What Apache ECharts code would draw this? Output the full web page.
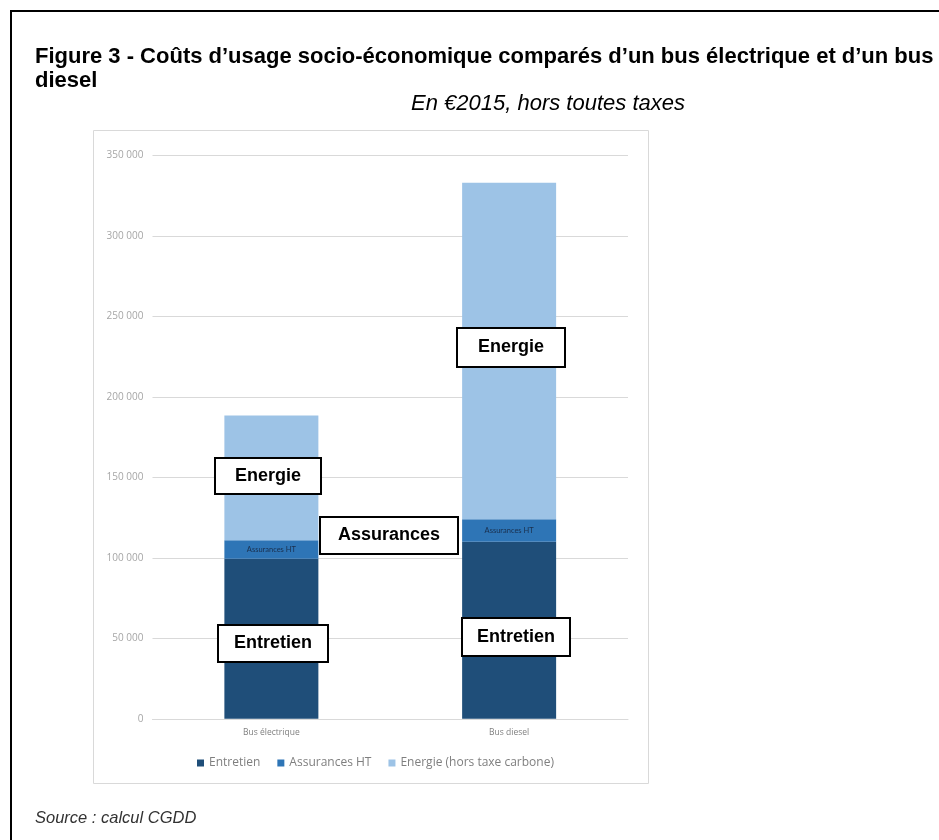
<!DOCTYPE html>
<html>
<head>
<meta charset="utf-8">
<script src="https://cdn.jsdelivr.net/npm/echarts@6/dist/echarts.min.js"></script>
<style>
  html, body { margin: 0; padding: 0; background: #fff; }
  #chart { width: 939px; height: 840px; }
</style>
</head>
<body>
<div id="chart"></div>
<script>
// données (en €2015)
var categories = ['Bus électrique', 'Bus diesel'];
var entretien = [99500, 110000];
var assurances = [11500, 14000];
var energie = [77500, 209000];
var seriesNames = ['Entretien', 'Assurances HT', 'Energie (hors taxe carbone)'];
var yTicks = [0, 50000, 100000, 150000, 200000, 250000, 300000, 350000];

// encadrés d'annotation (texte + boîte en pixels)
var notes = [
  { text: 'Energie', x: 215, y: 458, w: 106, h: 36 },
  { text: 'Assurances', x: 320, y: 517, w: 138, h: 37 },
  { text: 'Entretien', x: 218, y: 625, w: 110, h: 37 },
  { text: 'Energie', x: 457, y: 328, w: 108, h: 39 },
  { text: 'Entretien', x: 462, y: 618, w: 108, h: 38 }
];

var colors = ['#1f4e79', '#2e75b6', '#9dc3e6'];
var arial = '"Liberation Sans", Arial, sans-serif';

function fmt(v) {
  return String(v).replace(/\B(?=(\d{3})+(?!\d))/g, ' ');
}

var chart = echarts.init(document.getElementById('chart'));

var graphics = [
  // cadre extérieur
  { type: 'polyline', shape: { points: [[11, 840], [11, 11], [939, 11]] },
    style: { stroke: '#000', lineWidth: 2, fill: null } },
  // cadre du graphique
  { type: 'rect', shape: { x: 93.5, y: 130.5, width: 555, height: 653 },
    style: { stroke: '#d9d9d9', lineWidth: 1, fill: null }, z: -1 }
];
notes.forEach(function (n) {
  graphics.push({ type: 'rect', z: 100, shape: { x: n.x, y: n.y, width: n.w, height: n.h },
    style: { fill: '#fff', stroke: '#000', lineWidth: 2 } });
  graphics.push({ type: 'text', z: 101, x: n.x + n.w / 2, y: n.y + n.h / 2,
    style: { text: n.text, align: 'center', verticalAlign: 'middle',
      font: 'bold 18px ' + arial, fill: '#000' } });
});

var options = {
  animation: false,
  color: colors,
  title: [{
    text: 'Figure 3 - Coûts d’usage socio-économique comparés d’un bus électrique et d’un bus\ndiesel',
    left: 35, top: 45, padding: 0,
    textStyle: { fontFamily: arial, fontSize: 22, fontWeight: 'bold', color: '#000', lineHeight: 24 }
  }, {
    text: 'En €2015, hors toutes taxes',
    left: 411, top: 93, padding: 0,
    textStyle: { fontFamily: arial, fontSize: 22, fontWeight: 'normal', fontStyle: 'italic', color: '#000', lineHeight: 22 }
  }, {
    text: 'Source : calcul CGDD',
    left: 35, top: 809, padding: 0,
    textStyle: { fontFamily: arial, fontSize: 16.5, fontWeight: 'normal', fontStyle: 'italic', color: '#333', lineHeight: 18 }
  }],
  legend: {
    left: 192, top: 752,
    itemWidth: 7, itemHeight: 7, itemGap: 17,
    icon: 'rect',
    textStyle: { fontFamily: '"Open Sans", sans-serif', fontSize: 12, color: '#7f7f7f' },
    data: seriesNames
  },
  grid: { left: 152.5, right: 311, top: 155.5, bottom: 121.2 },
  xAxis: {
    type: 'category',
    data: categories,
    axisLine: { lineStyle: { color: '#d9d9d9' } },
    axisTick: { show: false },
    axisLabel: { fontFamily: '"Open Sans", sans-serif', fontSize: 8.5, color: '#7f7f7f', margin: 9 }
  },
  yAxis: {
    type: 'value',
    min: yTicks[0], max: yTicks[yTicks.length - 1], interval: 50000,
    axisLine: { show: false },
    axisTick: { show: false },
    splitLine: { lineStyle: { color: '#d9d9d9' } },
    axisLabel: { fontFamily: '"Open Sans", sans-serif', fontSize: 10, color: '#a6a6a6', margin: 9, formatter: fmt }
  },
  series: [{
    name: seriesNames[0], type: 'bar', stack: 'total', barWidth: 94,
    data: entretien
  }, {
    name: seriesNames[1], type: 'bar', stack: 'total', barWidth: 94,
    data: assurances,
    label: { show: true, position: 'inside', formatter: 'Assurances HT',
      fontFamily: 'Lato, sans-serif', fontSize: 7.5, color: '#1a2f4d' }
  }, {
    name: seriesNames[2], type: 'bar', stack: 'total', barWidth: 94,
    data: energie
  }],
  graphic: graphics
};

chart.setOption(options);
</script>
</body>
</html>
